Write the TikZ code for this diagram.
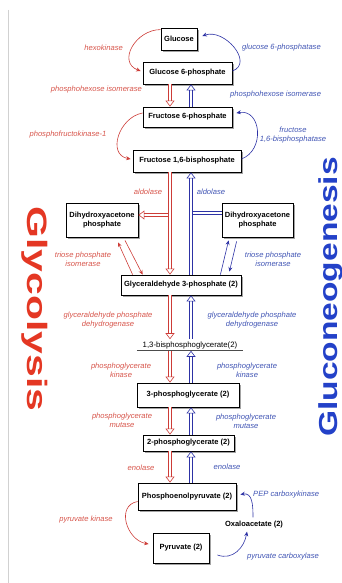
\documentclass[tikz,border=0pt]{standalone}
\usepackage{fontspec}
\setmainfont{Liberation Sans}
\usepackage{xcolor}
\usepackage{tikz}
\usetikzlibrary{arrows.meta, shadows, calc}

\definecolor{flowred}{RGB}{205,60,55}
\definecolor{enzred}{RGB}{215,85,75}
\definecolor{flowblue}{RGB}{45,50,165}
\definecolor{enzblue}{RGB}{65,85,180}
\definecolor{bigred}{RGB}{228,55,35}
\definecolor{bigblue}{RGB}{35,65,200}

\begin{document}
\begin{tikzpicture}[
    x=1pt, y=-1pt,
    % Styles
    metab/.style={rectangle, draw=black, line width=0.8pt, fill=white, align=center, inner sep=2pt,
        font=\bfseries\fontsize{7.5}{8.5}\selectfont,
        drop shadow={shadow xshift=1.8pt, shadow yshift=-1.8pt, fill=black!45, opacity=0.8}},
    plainmetab/.style={inner sep=1pt, font=\bfseries\fontsize{7.5}{8.5}\selectfont},
    redenz/.style={text=enzred, align=center, inner sep=1pt, font=\itshape\fontsize{7.6}{8.8}\selectfont},
    blueenz/.style={text=enzblue, align=center, inner sep=1pt, font=\itshape\fontsize{7.6}{8.8}\selectfont},
    redflow/.style={draw=flowred, double=white, double distance=2.6pt, line width=0.6pt,
        -{Triangle[open, length=6pt, width=9pt]}},
    blueflow/.style={draw=flowblue, double=white, double distance=2.6pt, line width=0.6pt,
        -{Triangle[open, length=6pt, width=9pt]}},
    redcurve/.style={draw=flowred, line width=0.6pt, -{Stealth[length=4.5pt, width=4pt]}},
    bluecurve/.style={draw=flowblue, line width=0.6pt, -{Stealth[length=4.5pt, width=4pt]}}
]
\useasboundingbox (0,0) rectangle (342,583);

% left page rule
\draw[black!18, line width=0.8pt] (8,10) -- (8,583);

% --- Side titles ---
\node[text=bigred, rotate=-90, font=\bfseries\fontsize{28}{28}\selectfont] (glytitle) at (35,309) {\scalebox{1.46}[1]{Glycolysis}};
\node[text=bigblue, rotate=90, font=\bfseries\fontsize{26}{26}\selectfont] (gngtitle) at (331,297) {\scalebox{1.29}[1]{Gluconeogenesis}};

% --- Metabolites ---
\node[metab, minimum width=36pt, minimum height=22pt] (glc) at (179,39) {Glucose};
\node[metab, minimum width=89pt, minimum height=22pt] (g6p) at (187.5,73) {Glucose 6-phosphate};
\node[metab, minimum width=89pt, minimum height=20pt] (f6p) at (187.5,117) {Fructose 6-phosphate};
\node[metab, minimum width=108pt, minimum height=22pt] (f16bp) at (187,161) {Fructose 1,6-bisphosphate};
\node[metab, minimum width=72pt, minimum height=34pt] (dhapL) at (102,220) {Dihydroxyacetone\\phosphate};
\node[metab, minimum width=71pt, minimum height=34pt] (dhapR) at (257.5,220) {Dihydroxyacetone\\phosphate};
\node[metab, minimum width=120pt, minimum height=20pt] (g3p) at (181,285) {Glyceraldehyde 3-phosphate (2)};
\node[inner sep=2pt, minimum width=106pt, font=\fontsize{7.8}{8.8}\selectfont] (bpg) at (190,345) {1,3-bisphosphoglycerate(2)};
\node[metab, minimum width=102pt, minimum height=24pt] (pg3) at (188,395) {3-phosphoglycerate (2)};
\node[metab, minimum width=91pt, minimum height=16pt] (pg2) at (188.5,443) {2-phosphoglycerate (2)};
\node[metab, minimum width=98pt, minimum height=27pt] (pep) at (187,496.5) {Phosphoenolpyruvate (2)};
\node[plainmetab] (oaa) at (254,525) {Oxaloacetate (2)};
\node[metab, minimum width=56pt, minimum height=30pt] (pyr) at (181,548) {Pyruvate (2)};

\draw[black!70, line width=0.8pt] (bpg.south west) -- (bpg.south east);

% --- Enzymes ---
\node[redenz, anchor=east] (hk) at (124,48) {hexokinase};
\node[blueenz, anchor=west] (g6pase) at (241,48) {glucose 6-phosphatase};
\node[redenz, anchor=east] (pgiR) at (143,90) {phosphohexose isomerase};
\node[blueenz, anchor=west] (pgiB) at (229,95) {phosphohexose isomerase};
\node[redenz] (pfk) at (68,135) {phosphofructokinase-1};
\node[blueenz] (fbpase) at (293,135) {fructose\\1,6-bisphosphatase};
\node[redenz] (aldR) at (148,192) {aldolase};
\node[blueenz] (aldB) at (211,192) {aldolase};
\node[redenz] (tpiR) at (83,259) {triose phosphate\\isomerase};
\node[blueenz] (tpiB) at (273,259) {triose phosphate\\isomerase};
\node[redenz] (gapdhR) at (108,320) {glyceraldehyde phosphate\\dehydrogenase};
\node[blueenz] (gapdhB) at (252,320) {glyceraldehyde phosphate\\dehydrogenase};
\node[redenz] (pgkR) at (121,370) {phosphoglycerate\\kinase};
\node[blueenz] (pgkB) at (247,370) {phosphoglycerate\\kinase};
\node[redenz] (pgmR) at (122,420) {phosphoglycerate\\mutase};
\node[blueenz] (pgmB) at (246,421) {phosphoglycerate\\mutase};
\node[redenz] (enoR) at (141,468) {enolase};
\node[blueenz] (enoB) at (227,467) {enolase};
\node[blueenz, anchor=west] (pepck) at (252,495) {PEP carboxykinase};
\node[redenz] (pk) at (86,520) {pyruvate kinase};
\node[blueenz] (pc) at (283,557) {pyruvate carboxylase};

% --- Columns for the reversible steps ---
\coordinate (redcol) at (170,0);
\coordinate (bluecol) at (191,0);
\coordinate (redfork) at (170,215);
\coordinate (bluefork) at (191,213);

% Hollow flux arrows
\draw[redflow] (g6p.south -| redcol) -- (f6p.north -| redcol);
\draw[blueflow] (f6p.north -| bluecol) -- (g6p.south -| bluecol);
\draw[redflow] (redfork) -- (dhapL.east |- redfork);
\draw[redflow] (f16bp.south -| redcol) -- (g3p.north -| redcol);
\draw[blueflow, -] (dhapR.west |- bluefork) -- (bluefork);
\draw[blueflow] (g3p.north -| bluecol) -- (f16bp.south -| bluecol);
\draw[redflow] (g3p.south -| redcol) -- (bpg.north -| redcol);
\draw[blueflow] (bpg.north -| bluecol) -- (g3p.south -| bluecol);
\draw[redflow] (bpg.south -| redcol) -- (pg3.north -| redcol);
\draw[blueflow] (pg3.north -| bluecol) -- (bpg.south -| bluecol);
\draw[redflow] (pg3.south -| redcol) -- (pg2.north -| redcol);
\draw[blueflow] (pg2.north -| bluecol) -- (pg3.south -| bluecol);
\draw[redflow] (pg2.south -| redcol) -- (pep.north -| redcol);
\draw[blueflow] (pep.north -| bluecol) -- (pg2.south -| bluecol);

% Curved irreversible steps
\draw[redcurve] ([yshift=-2pt]glc.north west) to[out=180, in=160, looseness=1.4] ([xshift=-2pt, yshift=2pt]g6p.west);
\draw[bluecurve] ([yshift=2pt]g6p.east) to[out=20, in=20, looseness=1.3] ([xshift=5pt, yshift=3pt]glc.east);
\draw[redcurve] ([yshift=4pt]f6p.west) to[out=190, in=170, looseness=1.3] ([xshift=-2pt, yshift=2pt]f16bp.west);
\draw[bluecurve] ([yshift=2pt]f16bp.east) to[out=20, in=10, looseness=1.4] ([xshift=4pt, yshift=4pt]f6p.east);
\draw[redcurve] ([yshift=-5pt]pep.west) to[out=190, in=170, looseness=1.3] ([xshift=-4pt, yshift=4pt]pyr.west);
\draw[bluecurve] ([xshift=-1pt, yshift=3pt]oaa.north) to[out=90, in=10, looseness=1.2] ([xshift=4pt, yshift=2pt]pep.east);
\draw[bluecurve] ([xshift=8pt, yshift=-7pt]pyr.east) to[out=-20, in=260, looseness=1.1] ([xshift=-7pt, yshift=-2pt]oaa.south);

% Triose phosphate isomerase
\draw[redcurve] ([xshift=12pt]g3p.north west) -- ([xshift=16pt, yshift=-5pt]dhapL.south);
\draw[redcurve] ([xshift=23pt, yshift=-3pt]dhapL.south) -- ([xshift=22pt]g3p.north west);
\draw[bluecurve] ([xshift=-21pt]g3p.north east) -- ([xshift=7pt, yshift=-3pt]dhapR.south west);
\draw[bluecurve] ([xshift=15pt, yshift=-4pt]dhapR.south west) -- ([xshift=-12pt, yshift=3pt]g3p.north east);

\end{tikzpicture}
\end{document}
